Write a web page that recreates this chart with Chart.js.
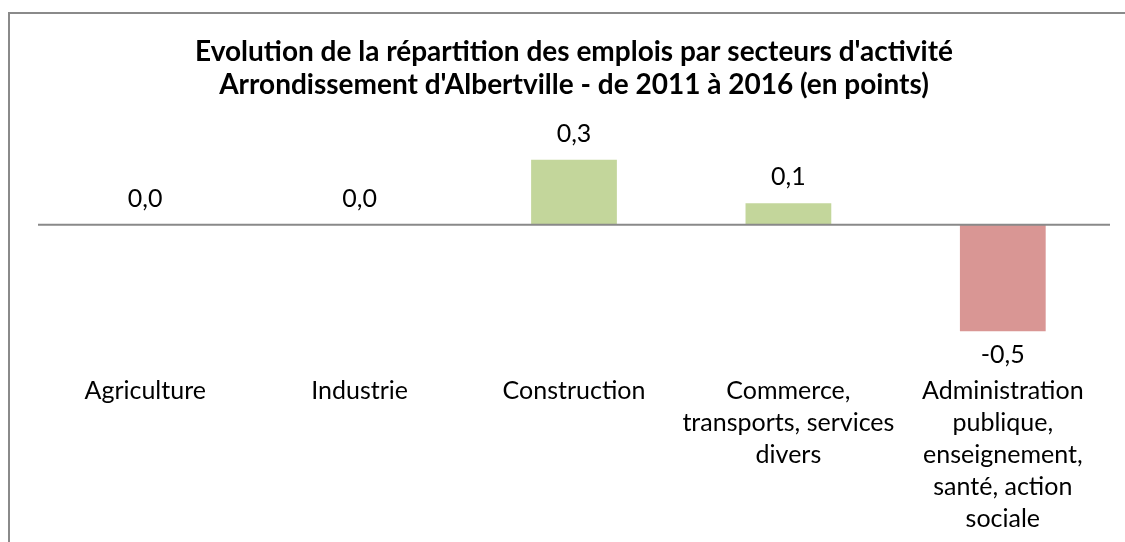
<!DOCTYPE html>
<html>
<head>
<meta charset="utf-8">
<script src="https://cdn.jsdelivr.net/npm/chart.js@4"></script>
<style>
    html, body { margin: 0; padding: 0; background: #fff; overflow: hidden; }
    #frame {
        position: absolute; left: 8px; top: 12px; width: 1130px; height: 540px;
        border-left: 2px solid #8a8a8a; border-top: 2px solid #8a8a8a;
    }
    #wrap { position: absolute; left: 0; top: 0; width: 1125px; height: 542px; }
</style>
</head>
<body>
<div id="frame"></div>
<div id="wrap"><canvas id="barChart"></canvas></div>
<script>
// Chart data
const titleLines = [
    "Evolution de la répartition des emplois par secteurs d'activité",
    "Arrondissement d'Albertville - de 2011 à 2016 (en points)"
];
const categories = [
    ['Agriculture'],
    ['Industrie'],
    ['Construction'],
    ['Commerce,', 'transports, services', 'divers'],
    ['Administration', 'publique,', 'enseignement,', 'santé, action', 'sociale']
];
const values = [0.0, 0.0, 0.3, 0.1, -0.49];

const FONT = 'Lato, Carlito, Calibri, sans-serif';

// zero line + value labels
const extras = {
    id: 'extras',
    afterDatasetsDraw(chart) {
        const ctx = chart.ctx;
        const area = chart.chartArea;
        const y0 = chart.scales.y.getPixelForValue(0);
        ctx.save();
        ctx.strokeStyle = '#898989';
        ctx.lineWidth = 2;
        ctx.beginPath();
        ctx.moveTo(area.left, y0);
        ctx.lineTo(area.right, y0);
        ctx.stroke();

        ctx.font = '25px ' + FONT;
        ctx.fillStyle = '#000';
        ctx.textAlign = 'center';
        ctx.textBaseline = 'middle';
        chart.getDatasetMeta(0).data.forEach((bar, i) => {
            const v = values[i];
            const txt = v.toFixed(1).replace('.', ',');
            const y = v >= 0 ? bar.y - 26 : bar.y + 24;
            ctx.fillText(txt, bar.x, y);
        });
        ctx.restore();
    }
};

function initChart() {
    const ctx = document.getElementById('barChart').getContext('2d');
    new Chart(ctx, {
        type: 'bar',
        data: {
            labels: categories,
            datasets: [{
                data: values,
                backgroundColor: values.map(v => v >= 0 ? '#c3d69b' : '#d99694'),
                barPercentage: 0.4,
                categoryPercentage: 1
            }]
        },
        options: {
            responsive: true,
            maintainAspectRatio: false,
            animation: false,
            layout: { padding: { left: 38, right: 15, top: 0, bottom: 9 } },
            plugins: {
                legend: { display: false },
                tooltip: { enabled: false },
                title: {
                    display: true,
                    text: titleLines,
                    color: '#000',
                    font: { family: FONT, size: 28, weight: 'bold', lineHeight: 1.18 },
                    padding: { top: 35, bottom: 37 }
                }
            },
            scales: {
                x: {
                    grid: { display: false },
                    border: { display: false },
                    ticks: {
                        color: '#000',
                        font: { family: FONT, size: 25, lineHeight: 1.28 },
                        maxRotation: 0,
                        autoSkip: false,
                        padding: 12
                    },
                    afterFit(scale) { scale.height = 178; }
                },
                y: { display: false, min: -0.6, max: 0.4 }
            }
        },
        plugins: [extras]
    });
}

document.addEventListener('DOMContentLoaded', initChart);
</script>
</body>
</html>
